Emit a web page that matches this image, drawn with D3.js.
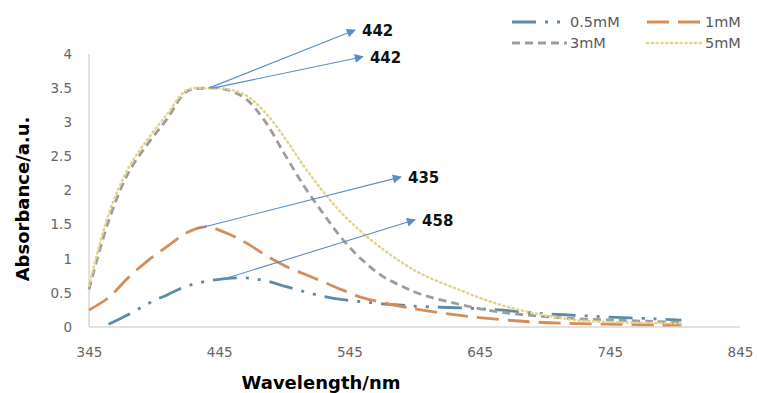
<!DOCTYPE html>
<html>
<head>
<meta charset="utf-8">
<script src="https://cdn.jsdelivr.net/npm/d3@7/dist/d3.min.js"></script>
<style>
    body { margin: 0; background: #fff; }
    .tick text { font-family: "DejaVu Sans", sans-serif; font-size: 13.5px; fill: #666; }
    .labels { font-family: "DejaVu Sans", sans-serif; font-weight: bold; font-size: 18px; fill: #000; }
    .anno { font-family: "DejaVu Sans", sans-serif; font-weight: bold; font-size: 15px; fill: #111; }
    .legend text { font-family: "DejaVu Sans", sans-serif; font-size: 14.5px; fill: #595959; }
</style>
</head>
<body>
<div id="chart"></div>
<script>
// wavelengths (nm) shared by all series
var wavelengths = [345, 360, 375, 390, 405, 420, 435, 450, 465, 480, 495, 510, 525, 540, 555, 570, 585, 600, 630, 660, 690, 720, 750, 780, 800];

var abs05 = [null, 0.04, 0.18, 0.34, 0.47, 0.60, 0.67, 0.71, 0.72, 0.68, 0.60, 0.52, 0.45, 0.40, 0.37, 0.34, 0.32, 0.30, 0.28, 0.25, 0.20, 0.17, 0.14, 0.12, 0.10];
var abs1  = [0.25, 0.43, 0.72, 0.97, 1.18, 1.38, 1.47, 1.38, 1.24, 1.06, 0.90, 0.78, 0.66, 0.54, 0.43, 0.36, 0.30, 0.25, 0.17, 0.11, 0.07, 0.05, 0.04, 0.03, 0.03];
var abs3  = [0.55, 1.55, 2.25, 2.68, 3.05, 3.45, 3.50, 3.48, 3.35, 3.02, 2.54, 2.07, 1.66, 1.28, 0.98, 0.75, 0.60, 0.48, 0.33, 0.22, 0.16, 0.12, 0.10, 0.08, 0.07];
var abs5  = [0.60, 1.65, 2.32, 2.75, 3.12, 3.47, 3.50, 3.49, 3.40, 3.15, 2.78, 2.36, 1.98, 1.65, 1.38, 1.15, 0.95, 0.78, 0.54, 0.33, 0.19, 0.10, 0.07, 0.06, 0.05];

var seriesNames = ["0.5mM", "1mM", "3mM", "5mM"];
var seriesColors = ["#5f8aa6", "#d68d57", "#9d9d9d", "#e2d488"];
var seriesDash = ["24,9,3,9,3,9", "22,9", "8,5", "1.2,3.6"];
var seriesWidth = [2.8, 2.8, 2.8, 2.5];

var xTicks = [345, 445, 545, 645, 745, 845];
var yTicks = [0, 0.5, 1, 1.5, 2, 2.5, 3, 3.5, 4];

// peak annotations: arrow from [nm, abs] to [nm, abs]
var annoLabels = ["442", "442", "435", "458"];
var annoFrom = [[437, 3.5], [440, 3.5], [428, 1.44], [448, 0.70]];
var annoTo = [[549.3, 4.35], [555.4, 3.96], [584.6, 2.20], [595.4, 1.57]];

var margin = {top: 54, right: 17, bottom: 66, left: 89};
var width = 757 - margin.left - margin.right;
var height = 393 - margin.top - margin.bottom;

var svg = d3.select("#chart").append("svg")
    .attr("width", 757)
    .attr("height", 393);

var g = svg.append("g")
    .attr("transform", "translate(" + margin.left + "," + margin.top + ")");

var x = d3.scaleLinear().domain([345, 845]).range([0, width]);
var y = d3.scaleLinear().domain([0, 4]).range([height, 0]);

// axes
var xAxis = d3.axisBottom(x).tickValues(xTicks).tickSize(0).tickPadding(20);
var yAxis = d3.axisLeft(y).tickValues(yTicks).tickSize(0).tickPadding(17)
    .tickFormat(function(d){ return String(d); });

g.append("g").attr("class", "x-axis")
    .attr("transform", "translate(0," + height + ")")
    .call(xAxis)
    .call(function(s){ s.select(".domain").remove(); });
g.append("g").attr("class", "y-axis")
    .call(yAxis)
    .call(function(s){ s.select(".domain").remove(); });

g.append("line")
    .attr("x1", 0).attr("x2", width)
    .attr("y1", height).attr("y2", height)
    .attr("stroke", "#c3c3c3").attr("stroke-width", 1);
g.append("line")
    .attr("x1", 0).attr("x2", 0)
    .attr("y1", 0).attr("y2", height)
    .attr("stroke", "#c3c3c3").attr("stroke-width", 1);

// series
var allAbs = [abs05, abs1, abs3, abs5];
var series = seriesNames.map(function(name, i){
    return {
        name: name,
        color: seriesColors[i],
        dash: seriesDash[i],
        sw: seriesWidth[i],
        values: wavelengths.map(function(w, j){ return {w: w, a: allAbs[i][j]}; })
    };
});

var line = d3.line()
    .defined(function(d){ return d.a !== null; })
    .x(function(d){ return x(d.w); })
    .y(function(d){ return y(d.a); })
    .curve(d3.curveCatmullRom.alpha(0.5));

g.selectAll(".series")
    .data(series)
    .enter().append("path")
    .attr("class", "series")
    .attr("d", function(d){ return line(d.values); })
    .attr("fill", "none")
    .attr("stroke", function(d){ return d.color; })
    .attr("stroke-width", function(d){ return d.sw; })
    .attr("stroke-dasharray", function(d){ return d.dash; })
    .attr("stroke-linecap", function(d, i){ return i === 3 ? "round" : "butt"; });

// arrows
svg.append("defs").append("marker")
    .attr("id", "arrow")
    .attr("viewBox", "0 0 10 10")
    .attr("refX", 9).attr("refY", 5)
    .attr("markerWidth", 11).attr("markerHeight", 9)
    .attr("markerUnits", "userSpaceOnUse")
    .attr("orient", "auto")
    .append("path")
    .attr("d", "M0,0 L10,5 L0,10 Z")
    .attr("fill", "#5a8ec4");

annoLabels.forEach(function(lab, i){
    g.append("line")
        .attr("x1", x(annoFrom[i][0])).attr("y1", y(annoFrom[i][1]))
        .attr("x2", x(annoTo[i][0])).attr("y2", y(annoTo[i][1]))
        .attr("stroke", "#5a8ec4")
        .attr("stroke-width", 1.1)
        .attr("marker-end", "url(#arrow)");
    g.append("text")
        .attr("class", "anno")
        .attr("x", x(annoTo[i][0]) + 7)
        .attr("y", y(annoTo[i][1]) + 6)
        .text(lab);
});

// axis titles
svg.append("text")
    .attr("class", "labels")
    .attr("text-anchor", "middle")
    .attr("transform", "translate(29,199) rotate(-90)")
    .text("Absorbance/a.u.");
svg.append("text")
    .attr("class", "labels")
    .attr("text-anchor", "middle")
    .attr("x", 321)
    .attr("y", 389)
    .text("Wavelength/nm");

// legend
var legX = [512, 647];
var legY = [22, 43];
var legend = svg.append("g").attr("class", "legend");
series.forEach(function(s, i){
    var lx = legX[i % 2], ly = legY[Math.floor(i / 2)];
    legend.append("line")
        .attr("x1", lx).attr("x2", lx + 55)
        .attr("y1", ly).attr("y2", ly)
        .attr("stroke", s.color)
        .attr("stroke-width", s.sw)
        .attr("stroke-dasharray", s.dash)
        .attr("stroke-linecap", i === 3 ? "round" : "butt");
    legend.append("text")
        .attr("x", lx + 58)
        .attr("y", ly)
        .attr("dy", "0.35em")
        .text(s.name);
});
</script>
</body>
</html>
